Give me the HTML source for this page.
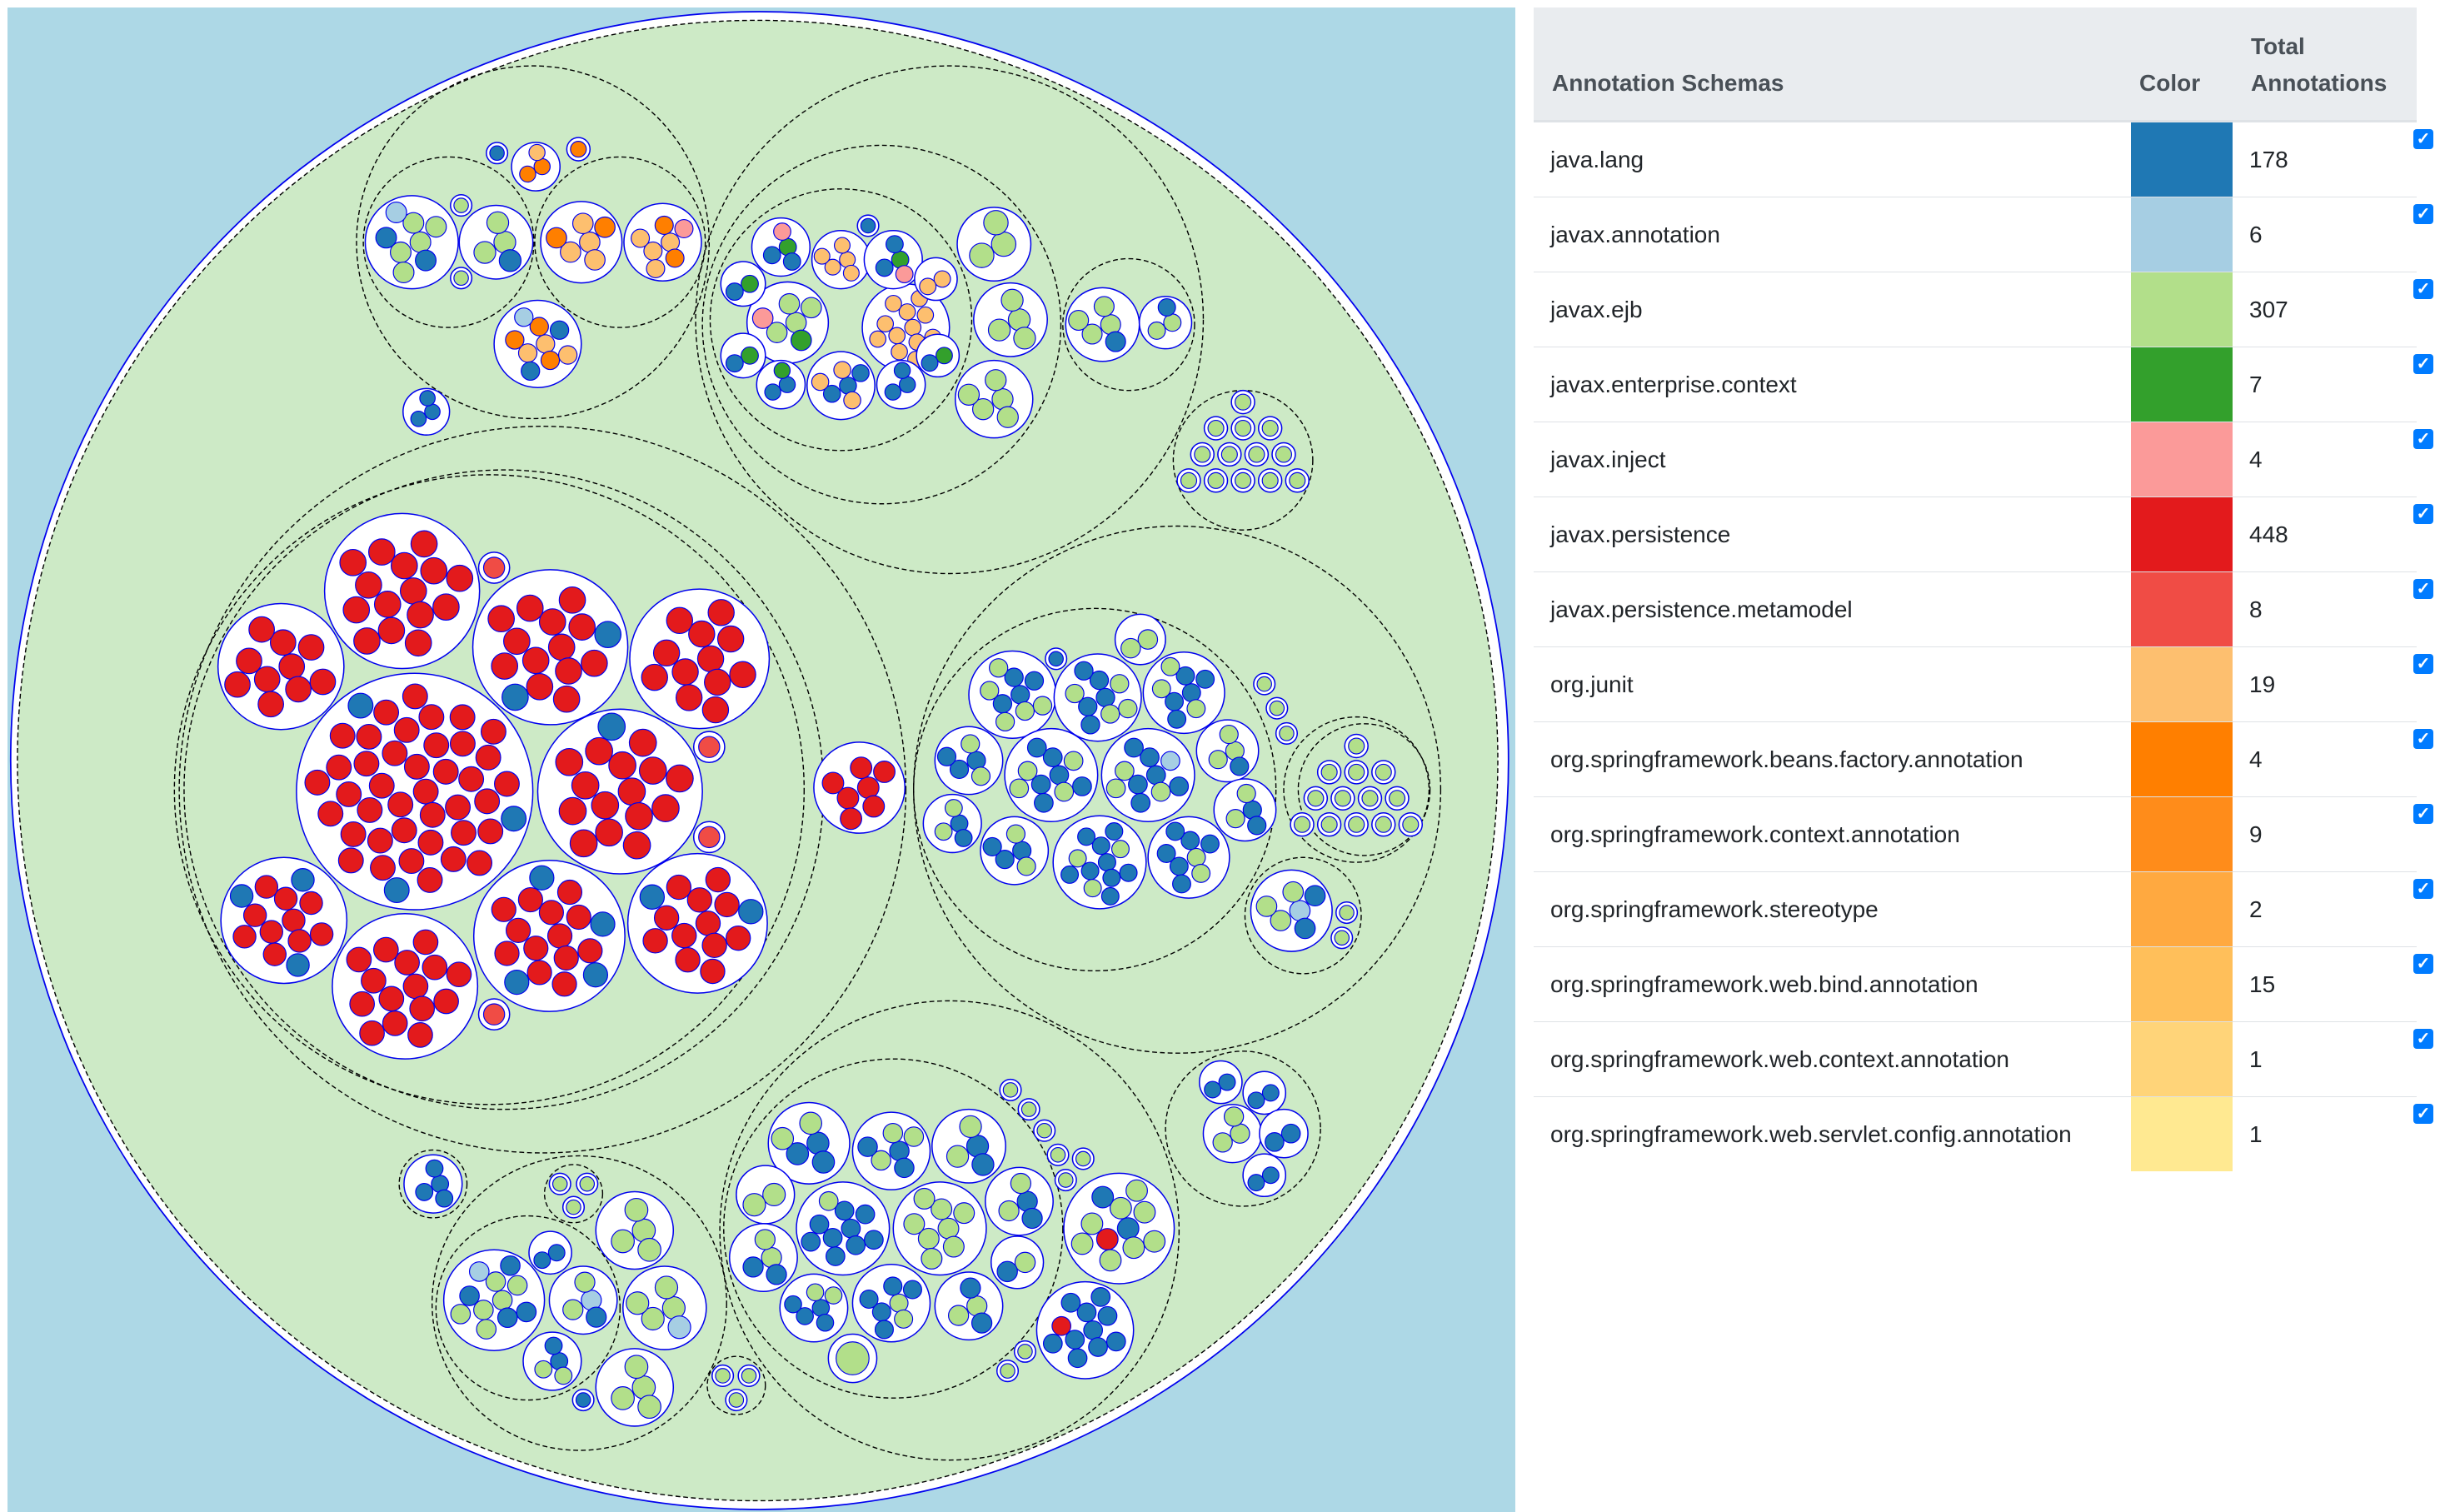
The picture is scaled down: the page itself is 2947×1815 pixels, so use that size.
<!DOCTYPE html>
<html><head><meta charset="utf-8">
<style>
html,body{margin:0;padding:0;background:#fff;width:2947px;height:1815px;overflow:hidden;font-family:"Liberation Sans",sans-serif;}
#chart{position:absolute;left:0;top:0;}
#tbl{position:absolute;left:1841px;top:9px;width:1060px;border-collapse:collapse;color:#212529;font-size:28px;}
#tbl th{background:#e9ecef;color:#495057;font-weight:bold;text-align:left;vertical-align:bottom;padding:0 0 22px 22px;border-bottom:3px solid #dee2e6;height:113px;line-height:44px;}
#tbl td{height:89px;border-top:1px solid #dee2e6;padding:0 0 0 20px;vertical-align:middle;}
#tbl td.sw{padding:0;width:122px;}
.cb{position:absolute;left:2897px;width:24px;height:24px;background:#007bff;border-radius:4px;color:#fff;font-size:20px;line-height:24px;text-align:center;font-weight:bold;}
</style></head><body>
<svg id="chart" width="1820" height="1815">
<rect x="9" y="9" width="1810" height="1806" fill="#add8e6"/>
<g id="g" transform="scale(1.163)"></g>
</svg>
<table id="tbl">
<thead><tr>
<th style="width:695px">Annotation Schemas</th>
<th style="width:100px;padding-left:10px">Color</th>
<th>Total<br>Annotations</th></tr></thead>
<tbody id="tb"></tbody></table>
<div id="cbs"></div>
<script>
const schemaNames=["java.lang","javax.annotation","javax.ejb","javax.enterprise.context","javax.inject","javax.persistence","javax.persistence.metamodel","org.junit","org.springframework.beans.factory.annotation","org.springframework.context.annotation","org.springframework.stereotype","org.springframework.web.bind.annotation","org.springframework.web.context.annotation","org.springframework.web.servlet.config.annotation"];
const schemaColors=["#1f78b4","#a6cee3","#b2df8a","#33a02c","#fb9a99","#e31a1c","#f04c45","#fdbf6f","#ff7f00","#ff8c1a","#ffa940","#ffbf5a","#ffd479","#ffe991"];
const schemaTotals=[178,6,307,7,4,448,8,19,4,9,2,15,1,1];
const leafColor={B:"#1f78b4",L:"#a6cee3",G:"#b2df8a",D:"#33a02c",P:"#fb9a99",R:"#e31a1c",M:"#f04c45",o:"#fdbf6f",O:"#ff7f00",Y:"#ffa940"};
const groups=[[520,815,330],[560,815,375],[505,815,325],[550,250,182],[463,250,88],[640,250,88],[980,330,262],[910,335,185],[868,330,135],[1165,335,68],[1283,475,72],[1215,815,272],[1130,815,187],[1400,815,75],[1408,815,68],[1345,945,60],[1283,1165,80],[980,1270,237],[922,1268,175],[598,1345,152],[545,1350,95],[447,1222,35],[760,1430,30],[592,1232,30]];
const packs=[
[415,610,80,"RRRRRRRRRRRRRRR"],[290,688,65,"RRRRRRRRRR"],[568,668,80,"RRRRRRRRRRRRRBB"],[722,680,72,"RRRRRRRRRRRR"],
[428,817,122,"RRRRRRRRRRRRRRRRRRRRRRRRRRRRRRRRRRRRRRRRBBB"],[640,817,85,"RRRRRRRRRRRRRRRB"],[293,950,65,"RRRRRRRRRRBBB"],
[418,1018,75,"RRRRRRRRRRRRRRR"],[567,966,78,"RRRRRRRRRRRRRBBBB"],[720,953,72,"RRRRRRRRRRRRBB"],
[510,586,16,"M"],[732,771,16,"M"],[732,864,16,"M"],[510,1047,16,"M"],[887,813,47,"RRRRRRR"],
[425,250,48,"GGGBBGGL"],[512,250,38,"GGGB"],[600,250,42,"ooooOO"],[684,250,40,"ooOOoPo"],[555,355,45,"ooOOOBBLo"],
[553,172,25,"OOo"],[513,158,11,"B"],[597,154,12,"O"],[476,212,11,"G"],[476,287,11,"G"],[440,425,24,"BBB"],
[813,333,42,"GGGDPG"],[868,268,30,"ooooo"],[935,338,45,"oooooooooooo"],[806,255,30,"DBPB"],[922,268,30,"DBBP"],
[966,288,22,"oo"],[767,293,23,"DB"],[767,367,23,"DB"],[806,397,25,"BBD"],[868,398,35,"BBoooB"],[930,397,25,"BBB"],
[968,367,22,"DB"],[1026,252,38,"GGG"],[1043,330,38,"GGGG"],[1026,412,40,"GGGGG"],[896,233,11,"B"],
[1138,335,38,"GGGBG"],[1203,333,27,"GGB"],
[1045,717,45,"BBBGGBGGG"],[1133,720,45,"BBBGGGBBG"],[1222,715,42,"BBBGGBBG"],[1000,785,35,"BBGGB"],[1085,800,48,"BBBGGGBBBG"],
[1185,800,48,"BBBGGLBBBG"],[1267,775,32,"GGGB"],[983,850,30,"BGGB"],[1047,878,35,"BBGGB"],[1135,890,48,"BBBBGGGBBBBB"],
[1227,885,42,"GBBGBBBB"],[1285,836,32,"BGGB"],[1177,660,26,"GG"],[1090,680,11,"B"],[1333,940,42,"LGGBGB"],
[1305,706,11,"G"],[1318,731,11,"G"],[1328,757,11,"G"],[1390,942,11,"G"],[1385,968,11,"G"],
[1260,1117,22,"BB"],[1305,1128,22,"BB"],[1272,1170,30,"GGG"],[1325,1170,25,"BB"],[1305,1213,22,"BB"],
[835,1180,42,"BBGBG"],[920,1188,40,"BGGBBG"],[1000,1183,38,"BGGB"],[790,1233,30,"GG"],[870,1268,48,"BBBBBBBGBB"],
[970,1268,48,"GGGGGGGG"],[1052,1240,35,"BGGB"],[1155,1268,57,"BRGGGGGBGGG"],[788,1298,35,"GBGB"],[840,1350,35,"BBGBBG"],
[920,1345,40,"GBBGBBB"],[1000,1348,35,"GGBB"],[1050,1303,27,"GB"],[1120,1373,50,"BBBBRBBBBBB"],[880,1402,25,"G"],
[510,1342,52,"GGGBBGGLBGB"],[655,1270,40,"GGGG"],[602,1342,35,"LGGB"],[686,1350,43,"GGGLG"],[570,1405,30,"BGBG"],
[655,1432,40,"GGGG"],[568,1293,22,"BB"],[602,1445,11,"B"],[447,1222,30,"BBBB"],
[1043,1125,11,"G"],[1062,1145,11,"G"],[1078,1167,11,"G"],[1092,1192,11,"G"],[1118,1196,11,"G"],[1100,1218,11,"G"],
[1040,1415,11,"G"],[1058,1395,11,"G"],[746,1420,11,"G"],[773,1420,11,"G"],[760,1445,11,"G"],
[578,1222,11,"G"],[606,1222,11,"G"],[592,1246,11,"G"]
];
const tri=[[1283,460],[1400,815]];
const NS="http://www.w3.org/2000/svg";
const g=document.getElementById('g');
function circ(cx,cy,r,fill,stroke,sw,dash){const c=document.createElementNS(NS,'circle');c.setAttribute('cx',cx);c.setAttribute('cy',cy);c.setAttribute('r',r);c.setAttribute('fill',fill);c.setAttribute('stroke',stroke);c.setAttribute('stroke-width',sw);if(dash)c.setAttribute('stroke-dasharray',dash);g.appendChild(c);return c;}
let c=circ(784,785,773,'#fff','#0000ee',1.5);


c=circ(782,785,764,'#cdeac6','#000',1.2,'5,3');


groups.forEach(q=>{const e=circ(q[0],q[1],q[2],'none','#000',1.2,'5,3');

});
function pack(cx,cy,R,s){const p=circ(cx,cy,R,'#fff','#0000ee',1.3);


const n=s.length;let lr,d;
if(n==1){lr=R*0.68;d=0;}else{lr=R*0.74/(Math.sqrt(n)+0.5);d=(R-lr*1.25)/Math.sqrt(n-0.5);}
for(let i=0;i<n;i++){const rad=n==1?0:d*Math.sqrt(i+0.5),a=i*2.39996;
const l=circ(cx+rad*Math.cos(a),cy+rad*Math.sin(a),lr,leafColor[s[i]],'#0000ee',1);

}}
packs.forEach(p=>pack(p[0],p[1],p[2],p[3]));
tri.forEach(t=>{const rows=[1,3,4,5];rows.forEach((m,ri)=>{for(let j=0;j<m;j++){const x=t[0]+(j-(m-1)/2)*28,y=t[1]-45+ri*27;pack(x,y,12,"G");}});});
const tb=document.getElementById('tb'),cbs=document.getElementById('cbs');
schemaNames.forEach((n,i)=>{const tr=document.createElement('tr');


tr.innerHTML='<td>'+n+'</td><td class="sw" style="background:'+schemaColors[i]+'"></td><td>'+schemaTotals[i]+'</td>';
tb.appendChild(tr);
const cb=document.createElement('div');cb.className='cb';cb.textContent='✓';cb.style.top=(155+i*90)+'px';


cbs.appendChild(cb);});
</script>
</body></html>
